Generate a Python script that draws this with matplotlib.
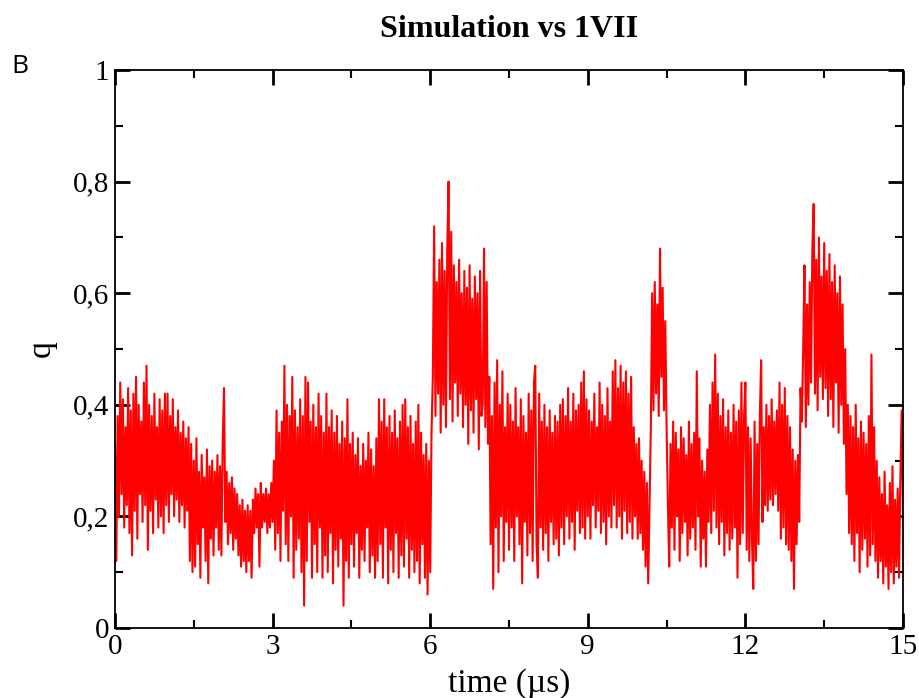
import matplotlib
matplotlib.use("Agg")
import matplotlib.pyplot as plt
from matplotlib.ticker import MultipleLocator, FuncFormatter
import numpy as np

# time step of the trace (µs) and the q values, in hundredths
dt = 0.025
q_raw = [
    # 0.0 - 3.0
    33, 12, 38, 20, 44, 24, 41, 18, 36, 22, 43, 17, 39, 13, 42, 21, 45, 16, 40, 24,
    37, 19, 44, 22, 47, 14, 40, 21, 38, 17, 42, 23, 36, 18, 41, 20, 39, 17, 42, 22,
    42, 19, 38, 24, 41, 20, 36, 23, 39, 19, 35, 22, 37, 18, 34, 21, 36, 12, 33, 10,
    30, 11, 34, 15, 28, 9, 31, 18, 27, 12, 32, 8, 29, 16, 30, 13, 28, 18, 31, 14,
    29, 13, 33, 43, 19, 28, 15, 26, 17, 27, 14, 25, 16, 24, 13, 22, 11, 23, 12, 21,
    10, 22, 12, 21, 9, 23, 17, 25, 18, 24, 11, 26, 18, 24, 19, 25, 17, 24, 18, 26,
    # 3.0 - 6.0
    19, 30, 14, 39, 17, 35, 12, 37, 21, 47, 15, 40, 12, 38, 20, 45, 9, 39, 14, 36,
    16, 41, 10, 38, 4, 45, 12, 44, 19, 37, 9, 40, 15, 36, 10, 42, 18, 38, 9, 35,
    13, 42, 10, 36, 17, 39, 8, 35, 14, 38, 11, 33, 16, 37, 4, 34, 12, 41, 9, 33,
    15, 35, 11, 31, 17, 34, 9, 29, 14, 33, 12, 30, 18, 35, 10, 32, 13, 29, 9, 34,
    12, 41, 15, 37, 9, 41, 18, 36, 8, 38, 14, 35, 10, 39, 17, 34, 9, 37, 13, 40,
    11, 41, 16, 36, 9, 38, 14, 33, 10, 37, 12, 40, 8, 35, 15, 31, 9, 33, 6, 30,
    # 6.0 - 9.0
    10, 35, 45, 72, 38, 62, 42, 66, 35, 69, 40, 64, 36, 68, 80, 41, 71, 37, 65, 44,
    62, 38, 66, 42, 60, 36, 64, 40, 61, 33, 65, 39, 59, 35, 63, 41, 60, 32, 64, 38,
    40, 68, 36, 62, 33, 45, 15, 38, 7, 44, 18, 48, 10, 40, 20, 46, 12, 36, 19, 42,
    14, 40, 18, 37, 12, 43, 20, 36, 15, 41, 8, 38, 19, 35, 13, 42, 17, 39, 12, 44,
    47, 15, 9, 42, 18, 37, 14, 40, 17, 36, 12, 39, 19, 35, 15, 38, 16, 37, 13, 40,
    18, 41, 15, 38, 20, 43, 16, 37, 19, 42, 14, 39, 21, 40, 17, 44, 18, 46, 16, 41,
    # 9.0 - 12.0
    20, 39, 16, 37, 22, 42, 18, 36, 21, 44, 17, 40, 19, 38, 15, 43, 20, 37, 18, 46,
    22, 48, 18, 43, 20, 47, 16, 44, 21, 46, 17, 42, 19, 45, 16, 36, 20, 33, 16, 34,
    17, 30, 14, 28, 11, 26, 8, 22, 36, 60, 39, 62, 42, 58, 38, 68, 45, 61, 39, 55,
    36, 22, 11, 33, 18, 37, 14, 35, 20, 32, 12, 36, 17, 34, 19, 31, 13, 37, 16, 33,
    18, 35, 14, 46, 20, 34, 11, 30, 16, 28, 11, 32, 19, 40, 17, 44, 21, 49, 18, 42,
    15, 38, 19, 41, 13, 36, 17, 39, 14, 35, 16, 40, 18, 37, 9, 39, 15, 44, 17, 38,
    # 12.0 - 15.0
    44, 14, 36, 12, 34, 16, 7, 37, 12, 33, 15, 38, 48, 19, 36, 22, 40, 21, 38, 23,
    41, 22, 37, 24, 39, 21, 44, 16, 40, 18, 43, 15, 38, 14, 36, 12, 32, 7, 30, 15,
    31, 19, 43, 37, 50, 65, 36, 58, 40, 62, 44, 68, 76, 42, 66, 39, 70, 45, 63, 41,
    69, 43, 64, 38, 67, 41, 62, 36, 65, 44, 60, 35, 63, 40, 58, 33, 50, 24, 40, 17,
    38, 15, 36, 12, 40, 17, 34, 10, 37, 14, 35, 16, 33, 11, 38, 13, 49, 15, 36, 12,
    30, 9, 27, 12, 24, 8, 28, 11, 22, 7, 26, 10, 29, 8, 23, 11, 25, 9, 27, 39,
    20,
]

x_ticks = [0, 3, 6, 9, 12, 15]
y_ticks = [0, 0.2, 0.4, 0.6, 0.8, 1]

q = np.array(q_raw) / 100.0
t = np.arange(len(q)) * dt

plt.rcParams['font.family'] = ['Liberation Serif', 'DejaVu Serif']

fig = plt.figure(figsize=(9.2, 6.98), dpi=100)
ax = fig.add_axes([0.125, 0.1003, 0.8565, 0.7994])

ax.plot(t, q, color='#ff0000', linewidth=1.5)

ax.set_xlim(0, 15)
ax.set_ylim(0, 1)
ax.set_xticks(x_ticks)
ax.set_yticks(y_ticks)
ax.xaxis.set_minor_locator(MultipleLocator(1.5))
ax.yaxis.set_minor_locator(MultipleLocator(0.1))


def comma_fmt(v, pos):
    if abs(v - round(v)) < 1e-9:
        return str(int(round(v)))
    return f"{v:.1f}".replace('.', ',')


ax.yaxis.set_major_formatter(FuncFormatter(comma_fmt))

ax.tick_params(which='both', direction='in', top=True, right=True, color='black')
ax.tick_params(which='major', length=11, width=2.0, labelsize=21, pad=4)
ax.tick_params(which='minor', length=6, width=1.5)
for s in ax.spines.values():
    s.set_linewidth(1.3)

ax.set_xlabel('time (µs)', fontsize=24, labelpad=6)
ax.set_ylabel('q', fontsize=24, labelpad=12)
ax.set_title('Simulation vs 1VII', fontsize=23, fontweight='bold', pad=24)

fig.text(0.012, 0.905, 'B', fontsize=19, family=['Open Sans', 'DejaVu Sans'], ha='left', va='center')

fig.savefig('out.png', dpi=100)
